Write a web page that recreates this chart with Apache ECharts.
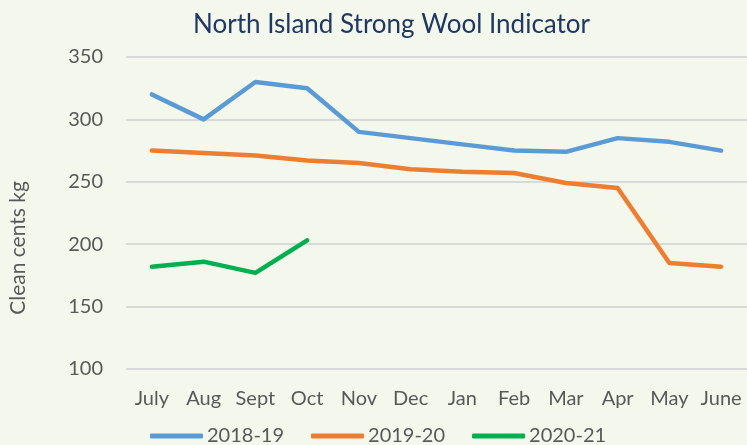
<!DOCTYPE html>
<html>
<head>
<meta charset="utf-8">
<script src="https://cdn.jsdelivr.net/npm/echarts@6/dist/echarts.min.js"></script>
<style>
html,body{margin:0;padding:0;background:#F4F8EC;}
#c{width:747px;height:445px;}
</style>
</head>
<body>
<div id="c"></div>
<script>
const categories = ['July','Aug','Sept','Oct','Nov','Dec','Jan','Feb','Mar','Apr','May','June'];
const s2018 = [320,300,330,325,290,285,280,275,274,285,282,275];
const s2019 = [275,273,271,267,265,260,258,257,249,245,185,182];
const s2020 = [182,186,177,203];
const seriesNames = ['2018-19','2019-20','2020-21'];
const yTicks = {min:100,max:350,interval:50};

const font = 'Lato, "Open Sans", sans-serif';
const chart = echarts.init(document.getElementById('c'));
const mk = (name, data, color) => ({
  name, type:'line', data, symbol:'none', showSymbol:false,
  lineStyle:{color, width:4.5, cap:'round', join:'round'}, itemStyle:{color}
});
chart.setOption({
  backgroundColor:'#F4F8EC',
  animation:false,
  title:{text:'North Island Strong Wool Indicator', left:188, top:7,
    textStyle:{fontFamily:font, fontWeight:'normal', fontSize:26, color:'#203864'}},
  legend:{bottom:-6, left:145, icon:'roundRect', itemWidth:53, itemHeight:5, itemGap:27,
    textStyle:{fontFamily:font, fontSize:20, color:'#595959', padding:[0,0,0,-1]}},
  grid:{left:126, top:57, width:624, height:312},
  graphic:[{type:'text', x:18, y:248, rotation:Math.PI/2,
    style:{text:'Clean cents kg', fontFamily:font, fontSize:21, fill:'#595959',
      textAlign:'center', textVerticalAlign:'middle'}}],
  xAxis:{type:'category', data:categories, boundaryGap:true,
    axisLine:{show:false}, axisTick:{show:false},
    axisLabel:{fontFamily:font, fontSize:20, color:'#595959', margin:20, interval:0}},
  yAxis:{type:'value', min:yTicks.min, max:yTicks.max, interval:yTicks.interval,
    axisLine:{show:false}, axisTick:{show:false},
    axisLabel:{fontFamily:font, fontSize:20, color:'#595959', margin:23},
    splitLine:{lineStyle:{color:'#D9D9D9', width:2}}},
  series:[mk(seriesNames[0], s2018, '#5B9BD5'), mk(seriesNames[1], s2019, '#ED7D31'), mk(seriesNames[2], s2020, '#00B050')]
});
</script>
</body>
</html>
